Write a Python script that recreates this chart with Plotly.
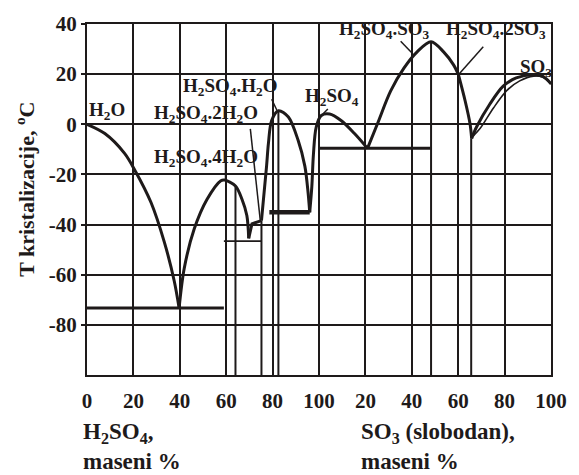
import plotly.graph_objects as go

# ---------------- data (x: 0-100 = % H2SO4, 100-200 = 0-100 % free SO3) ----------------
ice_x = [0, 7.7, 16.2, 20.5, 27.6, 33.3, 37.6, 39.7]
ice_y = [0, -3.7, -11.6, -18.1, -31.2, -46.9, -62.5, -73.3]

tetra_x = [39.7, 41.9, 46.2, 51.7, 57.7, 59.2, 64.0, 66.8, 68.9, 69.7]
tetra_y = [-73.3, -57.5, -41.8, -30.0, -22.5, -22.2, -24.6, -29.9, -36.4, -45.5]

di_x = [69.7, 71.1, 75.2]
di_y = [-45.5, -39.7, -38.4]

mono_x = [75.2, 77.4, 78.2, 79.6, 82.5, 86.8, 91.0, 93.9, 95.3, 96.0]
mono_y = [-38.4, -16.7, -7.6, 1.5, 5.4, 2.9, -6.4, -16.7, -27.3, -35.1]

acid_x = [96.0, 96.9, 97.6, 98.8, 101.0, 104.6, 109.5, 115.3, 120.9]
acid_y = [-35.1, -25.0, -12.0, -1.1, 3.5, 4.1, 1.5, -3.7, -9.6]

pyro_x = [120.9, 125.2, 130.9, 136.6, 142.3, 148.3, 153.7, 158.0, 160.1]
pyro_y = [-9.6, 0.2, 13.3, 22.4, 28.9, 32.9, 28.9, 23.7, 19.8]

di_so3_x = [160.1, 163.0, 165.1, 165.8]
di_so3_y = [19.8, 9.3, 0.2, -5.7]

so3_x = [165.8, 167.9, 173.6, 179.4, 185.0, 192.2, 196.5, 200.0]
so3_y = [-5.7, -1.1, 8.0, 15.2, 18.5, 19.8, 19.1, 16.2]

so3b_x = [166.6, 169.5, 175.2, 181.0, 186.5, 192.5, 196.5, 200.0]
so3b_y = [-4.5, -1.6, 6.5, 13.5, 17.3, 19.2, 18.8, 16.0]

# eutectic horizontals: (x0, x1, y, width)
eut_x0 = [0, 59.0, 78.6, 100.3]
eut_x1 = [59.0, 75.2, 96.0, 148.0]
eut_y = [-73.3, -46.6, -35.1, -9.6]
eut_w = [3, 1.8, 4.5, 3]

# compound verticals: x, top y
vert_x = [64.0, 75.2, 82.5, 148.3, 165.6]
vert_top = [-24.8, -38.4, 5.4, 32.9, -5.7]

# label pointer segments
ptr_x = [[70.4, 74.7], [79.6, 81.8], [135.2, 140.2], [170.8, 160.1], [103.8, 101.7], [59.7, 59.7]]
ptr_y = [[-1.8, -38.4], [10.0, 5.7], [33.1, 28.3], [30.9, 19.8], [6.1, 4.1], [-15.5, -22.0]]

# labels
lab_text = ["H<sub>2</sub>O", "H<sub>2</sub>SO<sub>4</sub>.H<sub>2</sub>O",
            "H<sub>2</sub>SO<sub>4</sub>.2H<sub>2</sub>O", "H<sub>2</sub>SO<sub>4</sub>.4H<sub>2</sub>O",
            "H<sub>2</sub>SO<sub>4</sub>", "H<sub>2</sub>SO<sub>4</sub>.SO<sub>3</sub>",
            "H<sub>2</sub>SO<sub>4</sub>.2SO<sub>3</sub>", "SO<sub>3</sub>"]
lab_x = [8.5, 61.5, 51.3, 51.3, 105.6, 128.2, 176.5, 193.6]
lab_y = [5.3, 14.7, 4.1, -13.5, 10.8, 37.5, 37.5, 22.5]

tick_vals = [0, 20, 40, 60, 80, 100, 120, 140, 160, 180, 200]
tick_text = ["0", "20", "40", "60", "80", "100", "20", "40", "60", "80", "100"]
ytick_vals = [-80, -60, -40, -20, 0, 20, 40]
ytick_text = ["-80", "-60", "-40", "-20", "0", "20", "40"]

INK = "#1e1a1a"
FONT = "Liberation Serif"

fig = go.Figure()

def line(x, y, w=3, shape="spline"):
    fig.add_trace(go.Scatter(x=x, y=y, mode="lines",
                             line=dict(color=INK, width=w, shape=shape, smoothing=0.9),
                             hoverinfo="skip", showlegend=False))

for vx, vt in zip(vert_x, vert_top):
    line([vx, vx], [-100, vt], w=2, shape="linear")
for x0, x1, yy, w in zip(eut_x0, eut_x1, eut_y, eut_w):
    line([x0, x1], [yy, yy], w=w, shape="linear")
for px, py in zip(ptr_x, ptr_y):
    line(px, py, w=1.5, shape="linear")

line(ice_x, ice_y)
line(tetra_x, tetra_y)
line(di_x, di_y, shape="linear")
line(mono_x, mono_y)
line(acid_x, acid_y)
line(pyro_x, pyro_y)
line(di_so3_x, di_so3_y)
line(so3_x, so3_y)
line(so3b_x, so3b_y, w=1.6)

for t, x, y in zip(lab_text, lab_x, lab_y):
    fig.add_annotation(x=x, y=y, xref="x", yref="y", text=t, showarrow=False,
                       font=dict(family=FONT, size=19, color=INK, weight="bold"))

# axis titles
TF = dict(family=FONT, size=23, color=INK, weight="bold")
fig.add_annotation(x=-0.012, y=-0.289, xref="paper", yref="paper", xanchor="left", yanchor="bottom",
                   align="left", text="H<sub>2</sub>SO<sub>4</sub>,<br>maseni %", showarrow=False, font=TF)
fig.add_annotation(x=0.587, y=-0.289, xref="paper", yref="paper", xanchor="left", yanchor="bottom",
                   align="left", text="SO<sub>3</sub> (slobodan),<br>maseni %", showarrow=False, font=TF)
fig.add_annotation(x=-0.1325, y=0.529, xref="paper", yref="paper", xanchor="center", yanchor="middle",
                   text="T kristalizacije, <sup>o</sup>C", textangle=-90, showarrow=False,
                   font=dict(family=FONT, size=22, color=INK, weight="bold"))

fig.update_xaxes(range=[0, 200], tickvals=tick_vals, ticktext=tick_text,
                 showgrid=True, gridcolor=INK, gridwidth=2, zeroline=False,
                 showline=True, linecolor=INK, linewidth=2, mirror=True,
                 ticks="outside", ticklen=6, tickcolor="rgba(0,0,0,0)",
                 tickfont=dict(family=FONT, size=21, color=INK, weight="bold"))
fig.update_yaxes(range=[-100, 40], tickvals=ytick_vals, ticktext=ytick_text,
                 showgrid=True, gridcolor=INK, gridwidth=2, zeroline=False,
                 showline=True, linecolor=INK, linewidth=2, mirror=True,
                 ticks="outside", ticklen=4, tickwidth=2, tickcolor=INK,
                 tickfont=dict(family=FONT, size=21, color=INK, weight="bold"))

fig.update_layout(width=579, height=475, margin=dict(l=87, r=24, t=18, b=100),
                  plot_bgcolor="white", paper_bgcolor="white", showlegend=False)

fig.write_html("out.html", config={"displayModeBar": False})
